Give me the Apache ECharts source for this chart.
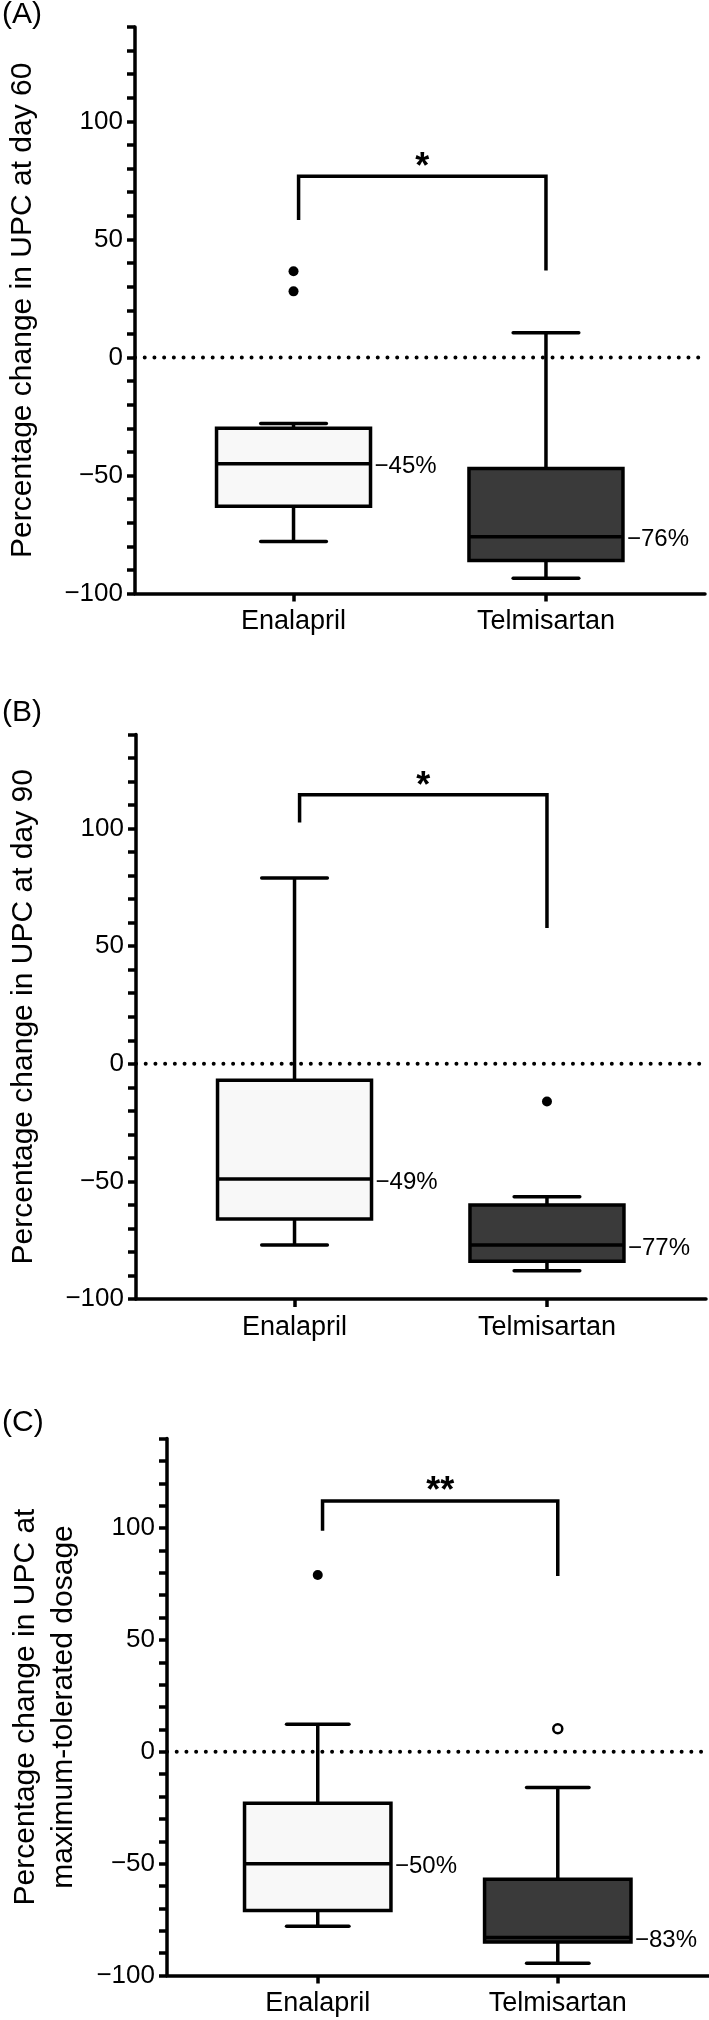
<!DOCTYPE html>
<html><head><meta charset="utf-8">
<script src="https://cdn.jsdelivr.net/npm/echarts@6/dist/echarts.min.js"></script>
<style>html,body{margin:0;padding:0;background:#fff}#c{width:709px;height:2020px}</style>
</head><body><div id="c"></div>
<script>
// ---------------- data ----------------
const categories = ['Enalapril', 'Telmisartan'];
const panelLabels = ['(A)', '(B)', '(C)'];
const yTitles = [
  'Percentage change in UPC at day 60',
  'Percentage change in UPC at day 90',
  'Percentage change in UPC at\nmaximum-tolerated dosage'
];
const yTickValues = [-100, -50, 0, 50, 100];
// box stats per category: [lower whisker, Q1, median, Q3, upper whisker]
const statsA = [[-78, -63, -45, -30, -28], [-93.5, -86, -76, -47, 10.5]];
const statsB = [[-77, -66, -49, -7, 79], [-88, -84, -77, -60, -56.5]];
const statsC = [[-78, -71, -50, -23, 12.3], [-94.5, -85, -83, -57, -16]];
const medianLabelsA = ['−45%', '−76%'];
const medianLabelsB = ['−49%', '−77%'];
const medianLabelsC = ['−50%', '−83%'];
// outliers: [category index, value]
const outliersA = [[0, 36.5], [0, 28]];
const outliersB = [[1, -16]];
const outliersC = [[0, 79]];
const openOutliersA = [];
const openOutliersB = [];
const openOutliersC = [[1, 10.3]];
// significance bracket: [bar height, left leg end, right leg end]
const bracketA = [76.8, 58.2, 36.8];
const bracketB = [114.4, 102.6, 57.7];
const bracketC = [112.1, 98.8, 78.5];
const starYA = 83.5, starYB = 121, starYC = 119.5;
const starsA = '*', starsB = '*', starsC = '**';

// ---------------- layout / style ----------------
const FONT = 'Liberation Sans, Arial, Helvetica, sans-serif';
const X_MIN = -0.628, X_MAX = 1.63;
const BOX_HALF = 0.305, CAP_HALF = 0.13;
const BR_X0 = 0.02, BR_X1 = 1.0;
const FILLS = ['#f8f8f8', '#3a3a3a'];
const LW = 3.5;
const panels = [
  { stats: statsA, med: medianLabelsA, out: outliersA, open: openOutliersA, br: bracketA, starY: starYA, stars: starsA,
    grid: { left: 135, top: 27, width: 570, height: 566.5 }, nameGap: 93, label: panelLabels[0], labelY: 15 },
  { stats: statsB, med: medianLabelsB, out: outliersB, open: openOutliersB, br: bracketB, starY: starYB, stars: starsB,
    grid: { left: 136, top: 734.5, width: 570, height: 564.5 }, nameGap: 93, label: panelLabels[1], labelY: 713 },
  { stats: statsC, med: medianLabelsC, out: outliersC, open: openOutliersC, br: bracketC, starY: starYC, stars: starsC,
    grid: { left: 167, top: 1438.5, width: 542, height: 537 }, nameGap: 84, label: panelLabels[2], labelY: 1423 }
];

const fmtNum = v => (v < 0 ? '−' + Math.abs(v) : String(v));
const blk = { color: '#000', width: LW };

const grids = [], xAxes = [], yAxes = [], series = [], graphics = [];
panels.forEach((p, i) => {
  grids.push(Object.assign({ containLabel: false, outerBoundsMode: 'none' }, p.grid));
  xAxes.push({
    gridIndex: i, type: 'value', min: X_MIN, max: X_MAX,
    axisLine: { show: true, onZero: false, lineStyle: blk },
    axisTick: { show: true, length: 8, customValues: [0, 1], lineStyle: blk },
    axisLabel: { show: true, customValues: [0, 1], formatter: v => categories[Math.round(v)] || '',
      fontSize: 27, fontFamily: FONT, color: '#000', margin: 15 },
    splitLine: { show: false }
  });
  yAxes.push({
    gridIndex: i, type: 'value', min: -100, max: 140, interval: 10,
    axisLine: { show: true, onZero: false, lineStyle: blk },
    axisTick: { show: true, length: 8, lineStyle: blk },
    axisLabel: { formatter: v => (yTickValues.indexOf(v) >= 0 ? fmtNum(v) : ''),
      fontSize: 26, fontFamily: FONT, color: '#000', margin: 12 },
    splitLine: { show: false },
    name: yTitles[i], nameLocation: 'middle', nameGap: p.nameGap,
    nameTextStyle: { fontSize: 30, fontFamily: FONT, color: '#000', lineHeight: 38, align: 'center' }
  });
  // zero reference dotted line
  series.push({
    type: 'line', xAxisIndex: i, yAxisIndex: i, silent: true, symbol: 'none', z: 1,
    data: [[X_MIN, 0], [X_MAX, 0]],
    lineStyle: { color: '#000', width: 4, type: [0.01, 9.7], cap: 'round' }
  });
  // boxes
  const med = p.med;
  series.push({
    type: 'custom', xAxisIndex: i, yAxisIndex: i, z: 3,
    data: p.stats.map((s, k) => [k].concat(s)),
    renderItem: (params, api) => {
      const x = api.value(0);
      const lo = api.value(1), q1 = api.value(2), md = api.value(3), q3 = api.value(4), hi = api.value(5);
      const c = (xx, v) => api.coord([xx, v]);
      const ls = { stroke: '#000', lineWidth: LW, fill: null };
      const cs = { stroke: '#000', lineWidth: LW, fill: null, lineCap: 'round' };
      const seg = (a, b, st) => ({ type: 'line', shape: { x1: a[0], y1: a[1], x2: b[0], y2: b[1] }, style: st });
      const tl = c(x - BOX_HALF, q3), br = c(x + BOX_HALF, q1);
      const mL = c(x - BOX_HALF, md), mR = c(x + BOX_HALF, md);
      return { type: 'group', children: [
        seg(c(x, hi), c(x, q3), ls),
        seg(c(x - CAP_HALF, hi), c(x + CAP_HALF, hi), cs),
        seg(c(x, lo), c(x, q1), ls),
        seg(c(x - CAP_HALF, lo), c(x + CAP_HALF, lo), cs),
        { type: 'rect', shape: { x: tl[0], y: tl[1], width: br[0] - tl[0], height: br[1] - tl[1] },
          style: { fill: FILLS[params.dataIndex], stroke: '#000', lineWidth: LW } },
        seg(mL, mR, ls),
        { type: 'text', x: mR[0] + 4, y: mR[1] + 3,
          style: { text: med[params.dataIndex], fontSize: 24, fontFamily: FONT, fill: '#000',
            align: 'left', verticalAlign: 'middle' } }
      ] };
    }
  });
  // outliers
  if (p.out.length) series.push({
    type: 'scatter', xAxisIndex: i, yAxisIndex: i, z: 4, symbol: 'circle', symbolSize: 10,
    data: p.out, itemStyle: { color: '#000', opacity: 1 }
  });
  if (p.open.length) series.push({
    type: 'scatter', xAxisIndex: i, yAxisIndex: i, z: 4, symbol: 'circle', symbolSize: 9,
    data: p.open, itemStyle: { color: '#fff', borderColor: '#000', borderWidth: 2.5, opacity: 1 }
  });
  // significance bracket
  series.push({
    type: 'line', xAxisIndex: i, yAxisIndex: i, z: 3, symbol: 'none', silent: true,
    data: [[BR_X0, p.br[1]], [BR_X0, p.br[0]], [BR_X1, p.br[0]], [BR_X1, p.br[2]]],
    lineStyle: { color: '#000', width: LW, join: 'miter' }
  });
  const stars = p.stars;
  series.push({
    type: 'custom', xAxisIndex: i, yAxisIndex: i, z: 4,
    data: [[(BR_X0 + BR_X1) / 2, p.starY]],
    renderItem: (params, api) => {
      const pt = api.coord([api.value(0), api.value(1)]);
      return { type: 'text', x: pt[0], y: pt[1] + 8,
        style: { text: stars, fontSize: 36, fontWeight: 'bold', fontFamily: FONT, fill: '#000',
          align: 'center', verticalAlign: 'middle' } };
    }
  });
  graphics.push({ type: 'text', x: 2, y: p.labelY,
    style: { text: p.label, fontSize: 30, fontFamily: FONT, fill: '#000', verticalAlign: 'middle' } });
});

const chart = echarts.init(document.getElementById('c'), null, { renderer: 'canvas' });
chart.setOption({
  animation: false,
  backgroundColor: '#fff',
  grid: grids, xAxis: xAxes, yAxis: yAxes, series: series, graphic: graphics
});
</script></body></html>
